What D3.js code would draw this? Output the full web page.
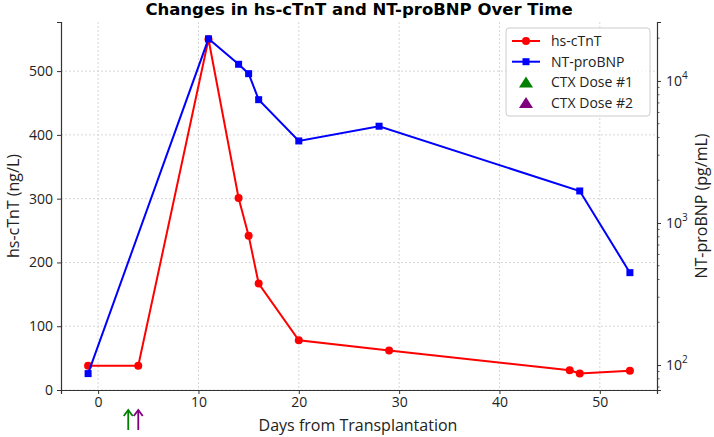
<!DOCTYPE html>
<html>
<head>
<meta charset="utf-8">
<script src="https://cdn.jsdelivr.net/npm/d3@7"></script>
<style>
  body { margin: 0; background: #fff; }
  text { font-family: "Open Sans", sans-serif; fill: #222; }
</style>
</head>
<body>
<svg id="chart" width="714" height="437"></svg>
<script>
// data
const tntDays = [-1, 4, 11, 14, 15, 16, 20, 29, 47, 48, 53]
const tntValues = [38, 38, 550, 301, 242, 167, 78, 62, 31, 26, 30]
const bnpDays = [-1, 11, 14, 15, 16, 20, 28, 48, 53]
const bnpValues = [87, 19800, 13100, 11250, 7380, 3780, 4800, 1680, 447]
const doseDays = [3, 4]
const doseColors = ['green', 'purple']
const xTicks = [0, 10, 20, 30, 40, 50]
const yTicks = [0, 100, 200, 300, 400, 500]
const legendLabels = ['hs-cTnT', 'NT-proBNP', 'CTX Dose #1', 'CTX Dose #2']

const svg = d3.select('#chart')
const padL = 61, padR = 657, padT = 22, padB = 390

const x = d3.scaleLinear().domain([-3.7, 55.7]).range([padL, padR])
const y = d3.scaleLinear().domain([0, 577]).range([padB, padT])
const y2 = d3.scaleLog().domain([66.7, 26000]).range([padB, padT])

// grid
const grid = svg.append('g')
grid.selectAll('line.gx').data(xTicks).enter().append('line')
    .attr('x1', d => x(d)).attr('x2', d => x(d))
    .attr('y1', padT).attr('y2', padB)
    .attr('stroke', '#ccc').attr('stroke-width', 0.8).attr('stroke-dasharray', '2,2')
grid.selectAll('line.gy').data(yTicks).enter().append('line')
    .attr('x1', padL).attr('x2', padR)
    .attr('y1', d => y(d)).attr('y2', d => y(d))
    .attr('stroke', '#ccc').attr('stroke-width', 0.8).attr('stroke-dasharray', '2,2')

// axes
const xAxis = svg.append('g').attr('transform', `translate(0,${padB})`)
    .call(d3.axisBottom(x).tickValues(xTicks).tickSize(4).tickPadding(3))
const yAxis = svg.append('g').attr('transform', `translate(${padL},0)`)
    .call(d3.axisLeft(y).tickValues(yTicks).tickSize(4).tickPadding(4))
const y2Axis = svg.append('g').attr('transform', `translate(${padR},0)`)
    .call(d3.axisRight(y2).tickValues([100, 1000, 10000]).tickFormat('').tickSize(4))

// minor log ticks
const minor = []
for (let dec = 10; dec <= 10000; dec *= 10) {
  for (let k = 2; k <= 9; k++) {
    const v = dec * k
    if (v >= 66.7 && v <= 26000) minor.push(v)
  }
}
y2Axis.selectAll('line.minor').data(minor).enter().append('line')
    .attr('x1', 0).attr('x2', 2.5)
    .attr('y1', d => y2(d)).attr('y2', d => y2(d))
    .attr('stroke', '#333').attr('stroke-width', 0.8)

// superscript log labels
const expLabels = y2Axis.selectAll('text.exp').data([2, 3, 4]).enter().append('text')
    .attr('x', 9).attr('y', d => y2(Math.pow(10, d)) + 5)
    .attr('font-size', 14)
expLabels.append('tspan').text('10')
expLabels.append('tspan').attr('dy', -7).attr('font-size', 10).text(d => d)

for (const ax of [xAxis, yAxis, y2Axis]) {
  ax.select('.domain').attr('stroke', '#333').attr('stroke-width', 1.2)
  ax.selectAll('.tick line').attr('stroke', '#333')
  ax.selectAll('.tick text').attr('font-size', 14).attr('fill', '#222')
    .style('font-family', '"Open Sans", sans-serif')
}

// lines
const tnt = tntDays.map((d, i) => [d, tntValues[i]])
const bnp = bnpDays.map((d, i) => [d, bnpValues[i]])

svg.append('path').datum(tnt)
    .attr('fill', 'none').attr('stroke', 'red').attr('stroke-width', 2)
    .attr('d', d3.line().x(d => x(d[0])).y(d => y(d[1])))
svg.selectAll('circle.tnt').data(tnt).enter().append('circle')
    .attr('cx', d => x(d[0])).attr('cy', d => y(d[1])).attr('r', 4)
    .attr('fill', 'red')

svg.append('path').datum(bnp)
    .attr('fill', 'none').attr('stroke', 'blue').attr('stroke-width', 2)
    .attr('d', d3.line().x(d => x(d[0])).y(d => y2(d[1])))
svg.selectAll('rect.bnp').data(bnp).enter().append('rect')
    .attr('x', d => x(d[0]) - 3.5).attr('y', d => y2(d[1]) - 3.5)
    .attr('width', 7).attr('height', 7)
    .attr('fill', 'blue')

// dose arrows below the axis
const arrows = svg.selectAll('g.dose').data(doseDays).enter().append('g')
    .attr('transform', d => `translate(${x(d)},0)`)
arrows.append('line')
    .attr('x1', 0).attr('x2', 0).attr('y1', 430).attr('y2', 411)
    .attr('stroke', (d, i) => doseColors[i]).attr('stroke-width', 1.8)
arrows.append('path')
    .attr('d', 'M-4.5,416 L0,410 L4.5,416')
    .attr('fill', 'none')
    .attr('stroke', (d, i) => doseColors[i]).attr('stroke-width', 1.8)

// labels
svg.append('text').attr('x', 359).attr('y', 15)
    .attr('text-anchor', 'middle').attr('font-size', 16.5).attr('font-weight', 'bold')
    .style('fill', '#000').style('font-family', '"DejaVu Sans", sans-serif')
    .text('Changes in hs-cTnT and NT-proBNP Over Time')
svg.append('text').attr('x', 358).attr('y', 431)
    .attr('text-anchor', 'middle').attr('font-size', 16)
    .text('Days from Transplantation')
svg.append('text').attr('transform', `translate(19,${(padT + padB) / 2}) rotate(-90)`)
    .attr('text-anchor', 'middle').attr('font-size', 16)
    .text('hs-cTnT (ng/L)')
svg.append('text').attr('transform', `translate(707,${(padT + padB) / 2}) rotate(-90)`)
    .attr('text-anchor', 'middle').attr('font-size', 16)
    .text('NT-proBNP (pg/mL)')

// legend
const lg = svg.append('g').attr('transform', 'translate(506,28)')
lg.append('rect').attr('width', 144).attr('height', 88).attr('rx', 3)
    .attr('fill', 'white').attr('fill-opacity', 0.8)
    .attr('stroke', '#ccc')
const items = lg.selectAll('g.item').data(legendLabels).enter().append('g')
    .attr('transform', (d, i) => `translate(0,${13 + i * 20.7})`)
items.each(function (d, i) {
  const g = d3.select(this)
  if (i < 2) {
    const c = i === 0 ? 'red' : 'blue'
    g.append('line').attr('x1', 6).attr('x2', 34).attr('stroke', c).attr('stroke-width', 2)
    if (i === 0) g.append('circle').attr('cx', 20).attr('r', 4).attr('fill', c)
    else g.append('rect').attr('x', 16.5).attr('y', -3.5).attr('width', 7).attr('height', 7).attr('fill', c)
  } else {
    g.append('path').attr('d', 'M13,5 L20,-6 L27,5 Z').attr('fill', doseColors[i - 2])
  }
  g.append('text').attr('x', 45).attr('y', 5).attr('font-size', 14).text(d)
})
</script>
</body>
</html>
